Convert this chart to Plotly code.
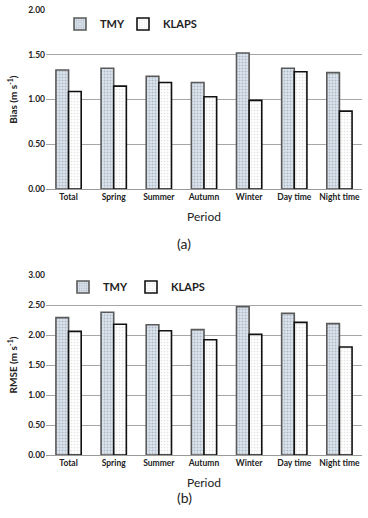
import plotly.graph_objects as go

periods = ["Total", "Spring", "Summer", "Autumn", "Winter", "Day time", "Night time"]
bias_tmy = [1.33, 1.35, 1.26, 1.19, 1.52, 1.35, 1.30]
bias_klaps = [1.09, 1.15, 1.19, 1.03, 0.99, 1.31, 0.87]
rmse_tmy = [2.29, 2.38, 2.17, 2.09, 2.47, 2.36, 2.19]
rmse_klaps = [2.06, 2.18, 2.07, 1.92, 2.01, 2.21, 1.80]
bias_ticks = [0.0, 0.5, 1.0, 1.5, 2.0]
rmse_ticks = [0.0, 0.5, 1.0, 1.5, 2.0, 2.5, 3.0]

W, H = 368, 518
FONT = "Lato"

tmy_marker = dict(color="#dbe5f1",
                  line=dict(color="#5a5a5a", width=1.6),
                  pattern=dict(shape=".", fgcolor="#8a8a8a", bgcolor="#dbe5f1",
                               size=3, solidity=0.35))
klaps_marker = dict(color="white",
                    line=dict(color="#111111", width=1.6),
                    pattern=dict(shape=".", fgcolor="#c8c8c8", bgcolor="white",
                                 size=3, solidity=0.25))

fig = go.Figure()
fig.add_trace(go.Bar(x=periods, y=bias_tmy, name="TMY", marker=tmy_marker,
                     xaxis="x", yaxis="y", legend="legend", showlegend=True))
fig.add_trace(go.Bar(x=periods, y=bias_klaps, name="KLAPS", marker=klaps_marker,
                     xaxis="x", yaxis="y", legend="legend2", showlegend=True))
fig.add_trace(go.Bar(x=periods, y=rmse_tmy, name="TMY", marker=tmy_marker,
                     xaxis="x2", yaxis="y2", legend="legend3", showlegend=True))
fig.add_trace(go.Bar(x=periods, y=rmse_klaps, name="KLAPS", marker=klaps_marker,
                     xaxis="x2", yaxis="y2", legend="legend4", showlegend=True))


def py(p):
    return 1 - p / H


xdom = [46 / W, 362 / W]
tickfont = dict(family=FONT, size=8.5, color="#222222", weight="bold")
xcommon = dict(domain=xdom, showline=True, linecolor="#9a9a9a", linewidth=1,
               tickfont=tickfont, ticks="", showgrid=False, automargin=False,
               title=dict(text="Period", font=dict(family=FONT, size=12, color="#222222"),
                          standoff=11))
ycommon = dict(showgrid=True, gridcolor="#a6a6a6", gridwidth=1, zeroline=False,
               showline=False, tickformat=".2f", tickfont=tickfont, ticks="",
               automargin=False)

legcommon = dict(orientation="h", xanchor="left", yanchor="middle",
                 font=dict(family=FONT, size=11, color="#222222", weight="bold"),
                 bgcolor="rgba(0,0,0,0)", itemwidth=30, visible=True)

fig.update_layout(
    width=W, height=H,
    showlegend=True,
    margin=dict(l=0, r=0, t=0, b=0, autoexpand=False),
    paper_bgcolor="white", plot_bgcolor="white",
    barmode="group", bargap=0.44, bargroupgap=0.0,
    font=dict(family=FONT),
    xaxis=dict(anchor="y", **xcommon),
    xaxis2=dict(anchor="y2", **xcommon),
    yaxis=dict(domain=[py(189), py(10)], range=[0, 2.0], tickvals=bias_ticks,
               title=dict(text="Bias (m s<sup>-1</sup>)",
                          font=dict(family=FONT, size=10, color="#222222", weight="bold"),
                          standoff=8),
               anchor="x", **ycommon),
    yaxis2=dict(domain=[py(455), py(275)], range=[0, 3.0], tickvals=rmse_ticks,
                title=dict(text="RMSE (m s<sup>-1</sup>)",
                           font=dict(family=FONT, size=10, color="#222222", weight="bold"),
                           standoff=8),
                anchor="x2", **ycommon),
    legend=dict(x=60 / W, y=py(24), **legcommon),
    legend2=dict(x=123 / W, y=py(24), **legcommon),
    legend3=dict(x=63 / W, y=py(287), **legcommon),
    legend4=dict(x=131 / W, y=py(287), **legcommon),
    annotations=[
        dict(text="(a)", x=0.5, y=py(243), xref="paper", yref="paper",
             showarrow=False, font=dict(family=FONT, size=14, color="#222222")),
        dict(text="(b)", x=0.5, y=py(508), xref="paper", yref="paper",
             showarrow=False, font=dict(family=FONT, size=14, color="#222222")),
    ],
)

fig.write_html("out.html", config={"displayModeBar": False},
               post_script="document.body.style.margin='0';")
